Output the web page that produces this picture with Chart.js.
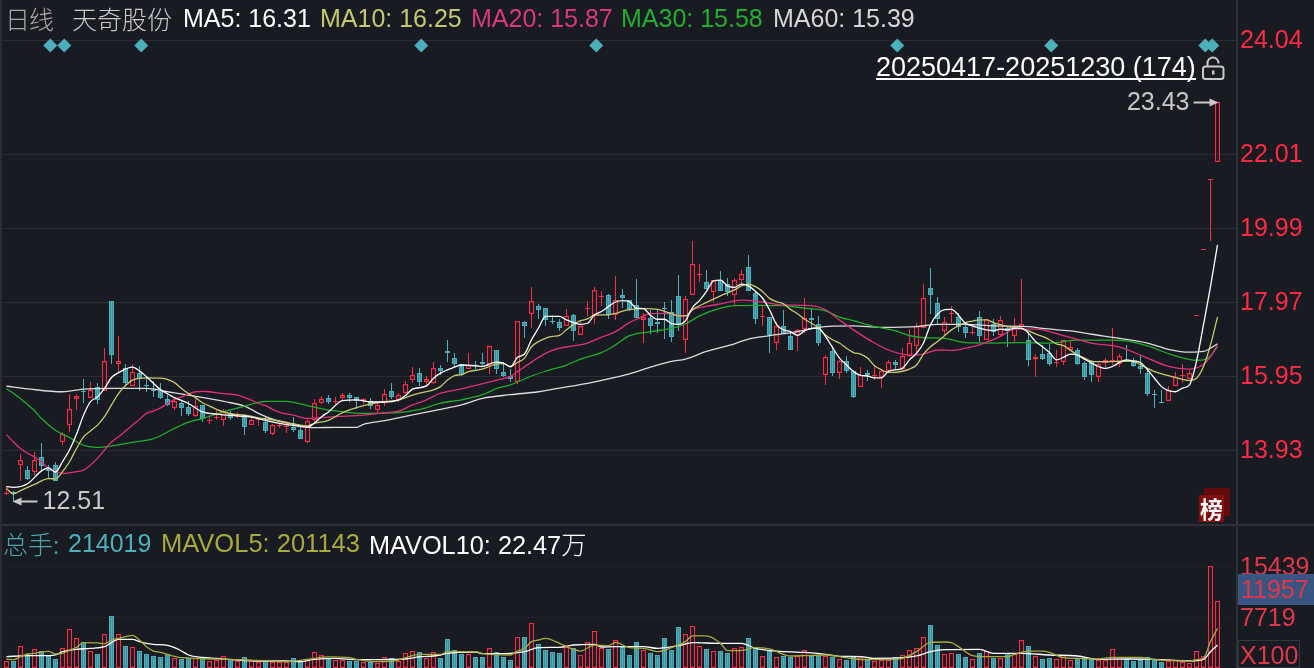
<!DOCTYPE html>
<html>
<head>
<meta charset="utf-8">
<title>天奇股份 日线</title>
<script src="https://cdn.jsdelivr.net/npm/chart.js@4/dist/chart.umd.min.js"></script>
<style>
  html, body { margin: 0; padding: 0; background: #181b21; }
  body { position: relative; width: 1314px; height: 668px; overflow: hidden; font-family: "Liberation Sans", Arial, sans-serif; font-size: 25px; }
  canvas { position: absolute; left: 0; }
  #priceChart { top: 0; }
  #volumeChart { top: 527px; }
  .txt { position: absolute; white-space: nowrap; line-height: 28px; height: 28px; }
  .cjk { font-family: "Noto Sans CJK SC", sans-serif; font-weight: 300; }
  .box { position: absolute; }
</style>
</head>
<body>
<canvas id="priceChart" width="1314" height="524"></canvas>
<canvas id="volumeChart" width="1314" height="141"></canvas>

<!-- separators -->
<div class="box" style="left:0;top:0;width:2px;height:668px;background:#2b2d32"></div>
<div class="box" style="left:0;top:524px;width:1314px;height:2px;background:#303238"></div>

<!-- price header -->
<span class="txt cjk" style="left:5px;top:4px;color:#a9a9a9;letter-spacing:-1px">日线</span>
<span class="txt cjk" style="left:72px;top:4px;color:#c9c9c9">天奇股份</span>
<span class="txt" style="left:183px;top:4px;color:#ffffff">MA5: 16.31</span>
<span class="txt" style="left:320px;top:4px;color:#c6c86c">MA10: 16.25</span>
<span class="txt" style="left:471px;top:4px;color:#d93a76">MA20: 15.87</span>
<span class="txt" style="left:621px;top:4px;color:#22ad2e">MA30: 15.58</span>
<span class="txt" style="left:773px;top:4px;color:#d6d6d6">MA60: 15.39</span>

<span class="txt" style="left:876px;top:52px;color:#ffffff;font-size:27px;border-bottom:2px solid #ffffff;height:26px;line-height:30px">20250417-20251230 (174)</span>
<svg class="box" style="left:1201px;top:56px" width="25" height="25" viewBox="0 0 25 25">
  <rect x="2" y="10.5" width="20.5" height="12.5" rx="2.5" fill="none" stroke="#c9c9c9" stroke-width="2"/>
  <path d="M6.5 10 V7 A5.5 5.5 0 0 1 17.5 7 V7.5" fill="none" stroke="#c9c9c9" stroke-width="2"/>
  <rect x="11" y="14.5" width="2.5" height="4" fill="#c9c9c9"/>
</svg>

<!-- rank badge -->
<div class="box" style="left:1204px;top:488px;width:26px;height:28px;background:#640c0c"></div>
<div class="box" style="left:1199px;top:495px;width:25px;height:27px;background:#840d0d"></div>
<span class="txt cjk" style="left:1200px;top:494px;color:#ffffff;font-size:23px;font-weight:700">榜</span>

<!-- volume header -->
<span class="txt cjk" style="left:3px;top:529px;color:#4aa5ad">总手:</span>
<span class="txt" style="left:68px;top:529px;color:#4bb0bc">214019</span>
<span class="txt" style="left:161px;top:529px;color:#a8ab3c;font-size:25.5px">MAVOL5: 201143</span>
<span class="txt" style="left:369px;top:529px;color:#ffffff;font-size:25.3px">MAVOL10: 22.47<span class="cjk">万</span></span>

<!-- volume axis extras -->
<div class="box" style="left:1238px;top:574px;width:76px;height:31px;background:#3b5583"></div>
<span class="txt" style="left:1241px;top:575px;color:#e0384b">11957</span>
<div class="box" style="left:1238px;top:640px;width:62px;height:28px;border:1px solid #33363c;box-sizing:border-box"></div>
<span class="txt" style="left:1240px;top:641px;color:#e0384b">X100</span>

<script>
// candles, oldest first (price)
const opens = [
  12.73,12.77,13.53,13.38,13.34,13.74,13.40,13.51,14.15,14.60,
  15.33,15.54,15.36,15.64,15.55,17.99,16.28,16.16,15.69,16.03,
  15.70,15.58,15.55,15.32,15.09,15.21,15.11,14.85,15.15,14.74,
  14.81,14.76,14.94,14.83,14.89,14.60,14.74,14.69,14.37,14.58,
  14.55,14.57,14.47,14.14,14.74,15.21,15.35,15.24,15.36,15.44,
  15.37,15.26,15.27,15.03,15.21,15.54,15.30,15.48,15.83,16.04,
  15.80,15.77,16.17,16.64,16.45,16.28,16.15,16.25,16.34,16.23,
  16.66,16.06,15.95,15.79,17.42,17.64,17.87,17.81,17.46,17.43,
  17.32,17.62,17.06,17.79,17.61,18.12,18.17,17.62,18.17,18.02,
  17.89,17.47,17.54,17.43,17.81,17.70,18.14,16.93,18.16,18.70,
  18.52,18.23,18.57,18.46,18.16,18.57,18.93,18.22,17.57,17.56,
  16.86,17.32,17.05,17.07,17.23,17.54,17.37,15.99,16.64,16.04,
  16.36,16.08,15.64,16.04,15.94,15.93,16.09,16.34,16.15,16.50,
  16.78,17.26,18.36,17.95,17.17,17.66,17.56,17.29,17.13,17.56,
  16.94,17.37,17.07,17.26,17.05,17.30,16.94,16.41,16.55,16.58,
  16.32,16.34,16.67,16.66,16.31,16.36,15.91,16.31,16.34,16.27,
  16.36,16.34,16.23,16.04,15.45,15.24,15.27,15.69,15.94,15.87,
  17.59,19.38,21.31,21.79
];
const highs = [
  12.95,12.82,13.82,13.49,13.87,14.12,13.52,13.61,14.43,15.47,
  15.46,15.87,15.78,15.75,16.71,17.99,17.04,16.27,16.29,16.22,
  15.95,15.82,15.75,15.43,15.33,15.26,15.26,15.31,15.15,14.88,
  15.02,15.04,15.00,14.96,14.91,14.88,14.84,14.84,14.64,14.67,
  14.72,14.84,14.56,14.75,15.33,15.41,15.44,15.37,15.48,15.48,
  15.37,15.34,15.34,15.24,15.60,15.75,15.48,15.82,16.20,16.17,
  15.95,16.32,16.25,16.94,16.58,16.28,16.58,16.35,16.59,16.76,
  16.66,16.34,16.15,17.45,17.46,18.38,17.92,17.81,17.62,17.51,
  17.78,17.65,17.45,18.00,18.38,18.27,18.19,18.68,18.33,18.03,
  18.60,17.66,17.76,17.76,17.97,18.03,18.71,18.14,19.64,19.01,
  18.85,18.58,18.82,18.63,18.63,18.85,19.26,18.27,17.87,17.56,
  17.42,17.76,17.18,17.24,18.07,17.78,17.59,16.53,16.77,16.39,
  16.50,16.12,16.20,16.11,16.25,16.12,16.39,16.39,16.72,17.24,
  17.40,18.47,18.90,18.11,17.56,17.87,17.66,17.37,17.29,17.73,
  17.51,17.51,17.59,17.32,17.53,18.60,17.12,16.55,16.80,16.83,
  16.66,16.93,16.94,16.72,16.36,16.39,16.31,16.45,17.26,16.55,
  16.80,16.45,16.53,16.12,15.57,15.57,15.68,16.06,16.28,16.12,
  17.62,19.41,21.34,23.43
];
const lows = [
  12.70,12.51,13.09,13.11,13.24,13.38,13.14,13.09,14.06,14.43,
  15.02,15.20,15.36,15.18,15.55,16.27,16.02,15.67,15.69,15.55,
  15.52,15.38,15.33,15.13,15.02,14.86,14.86,14.83,14.70,14.64,
  14.75,14.59,14.75,14.80,14.34,14.60,14.59,14.40,14.35,14.54,
  14.40,14.43,14.23,14.11,14.68,15.19,15.18,15.19,15.30,15.25,
  15.04,15.19,15.05,14.92,15.12,15.32,15.24,15.45,15.75,15.69,
  15.65,15.72,15.97,16.32,16.20,15.95,16.15,16.15,16.21,16.01,
  16.01,15.93,15.79,15.74,16.99,17.26,17.51,17.32,17.37,17.18,
  17.32,16.91,17.06,17.59,17.37,17.87,17.51,17.48,17.81,17.73,
  17.54,16.86,17.10,17.12,16.96,16.88,17.18,16.58,18.16,18.52,
  18.30,17.97,18.27,18.14,17.89,18.44,18.27,17.37,17.32,16.58,
  16.66,17.10,16.66,16.64,17.12,17.21,16.77,15.71,15.95,15.87,
  16.04,15.35,15.64,15.82,15.84,15.63,16.09,16.12,16.12,16.47,
  16.53,17.26,17.65,17.35,17.05,17.39,17.16,16.99,17.07,16.88,
  16.94,17.05,17.03,16.75,16.88,17.23,16.23,15.93,16.39,16.23,
  16.20,16.25,16.67,16.25,15.84,15.79,15.79,16.19,16.25,16.20,
  16.34,16.20,16.01,15.41,15.08,15.22,15.27,15.69,15.76,15.87,
  17.59,19.38,19.64,21.79
];
const closes = [
  12.76,12.73,13.67,13.14,13.65,13.49,13.35,13.09,14.38,15.06,
  15.40,15.52,15.58,15.29,16.35,16.52,16.35,15.77,16.05,15.87,
  15.68,15.56,15.36,15.15,15.26,15.08,14.92,15.14,14.78,14.76,
  14.83,14.96,14.80,14.92,14.56,14.76,14.78,14.45,14.60,14.60,
  14.64,14.48,14.24,14.71,15.21,15.32,15.24,15.26,15.43,15.36,
  15.28,15.32,15.12,15.16,15.46,15.38,15.44,15.74,15.97,15.79,
  15.86,16.17,16.09,16.58,16.28,15.97,16.24,16.24,16.28,16.76,
  16.15,15.95,15.88,17.45,17.32,17.99,17.76,17.48,17.44,17.26,
  17.58,17.18,17.31,17.81,18.29,18.14,17.62,18.02,18.08,17.78,
  17.54,17.56,17.32,17.37,17.79,17.02,17.37,18.06,19.00,18.74,
  18.33,18.57,18.27,18.25,18.57,18.73,18.27,17.51,17.59,17.07,
  17.31,17.11,16.66,17.20,17.53,17.48,16.86,16.47,16.04,16.35,
  16.09,15.38,15.98,15.98,15.97,16.08,16.33,16.25,16.49,16.85,
  17.31,18.07,18.17,17.51,17.42,17.67,17.29,17.13,17.16,17.05,
  17.51,17.16,17.47,17.18,17.29,17.36,16.39,16.47,16.42,16.28,
  16.34,16.93,16.75,16.28,15.93,15.98,16.27,16.39,16.38,16.49,
  16.34,16.23,16.15,15.46,15.44,15.23,15.57,15.92,15.97,16.03,
  17.62,19.41,21.34,23.43
];
// volume, in units of 100 hands
const volumes = [
  1060,1060,3280,2070,2830,2570,1870,1360,2980,5850,
  4490,3940,2520,2120,5100,7870,5100,3330,3130,2570,
  2120,1820,1670,2070,1460,1360,1560,1560,1460,1060,
  1160,1770,1310,1060,1670,1210,910,1060,860,960,
  860,1510,960,1310,2370,1920,1560,1210,1210,1060,
  1060,860,960,760,1620,1510,1060,2220,2520,2420,
  1560,2370,1460,4390,2730,2170,2070,1670,1670,2980,
  2420,1670,1210,4640,4690,6760,3630,2730,2420,2270,
  3130,3030,1920,3890,5550,2980,2880,4190,3230,1970,
  3940,2670,2270,1970,4540,2780,6210,5100,6310,3280,
  2880,2520,2570,2270,2980,3130,4540,3080,1770,2570,
  1620,1820,1720,1770,2670,1820,1870,1870,1670,1310,
  1210,1720,1670,1260,1010,1210,1210,1670,1920,2670,
  2980,4640,6510,3480,2070,2220,2120,1670,1310,2270,
  2520,1510,1460,2270,2070,4190,3330,1770,1360,1510,
  1310,1970,1210,1410,1410,1460,1210,1210,2830,1670,
  1410,1060,1210,1670,1210,910,1060,1210,910,760,
  2520,1870,15439,10190
];

// moving averages, [candle number, value] read at the places where the line bends
const ma5 = [
  [0,12.93],[1,12.91],[3,13.01],[5,13.36],[6,13.44],[7,13.33],[8,13.61],[9,13.93],[10,14.36],[11,14.88],
  [12,15.25],[13,15.38],[14,15.61],[15,15.91],[16,16.04],[18,16.19],[19,16.09],[20,15.93],[22,15.58],[24,15.36],
  [26,15.20],[28,14.97],[30,14.91],[33,14.86],[35,14.83],[37,14.74],[39,14.66],[41,14.60],[43,14.55],[44,14.67],
  [45,14.84],[46,14.97],[48,15.28],[50,15.30],[52,15.24],[54,15.24],[56,15.30],[57,15.42],[58,15.59],[60,15.68],
  [61,15.89],[62,16.03],[64,16.19],[65,16.25],[67,16.23],[68,16.21],[69,16.28],[70,16.33],[71,16.30],[72,16.20],
  [73,16.46],[74,16.55],[75,16.94],[76,17.26],[77,17.58],[79,17.58],[80,17.48],[81,17.41],[82,17.36],[83,17.39],
  [84,17.62],[85,17.71],[86,17.85],[87,17.97],[88,18.01],[89,17.98],[90,17.80],[91,17.79],[92,17.61],[93,17.50],
  [94,17.50],[95,17.38],[96,17.36],[97,17.46],[98,17.82],[99,18.01],[100,18.26],[101,18.55],[102,18.57],[103,18.41],
  [104,18.37],[105,18.46],[106,18.41],[107,18.26],[108,18.08],[109,17.76],[110,17.36],[111,17.21],[112,17.16],[113,17.06],
  [114,17.18],[115,17.25],[116,17.25],[117,17.03],[118,16.73],[119,16.44],[120,16.25],[121,16.07],[122,15.97],[123,15.95],
  [124,15.90],[125,15.90],[126,16.08],[127,16.12],[128,16.16],[129,16.39],[130,16.57],[131,16.85],[132,17.35],[133,17.64],
  [134,17.76],[135,17.77],[136,17.61],[137,17.39],[138,17.32],[139,17.26],[140,17.21],[141,17.19],[142,17.23],[143,17.21],
  [144,17.25],[145,17.25],[146,17.12],[147,16.89],[148,16.75],[149,16.59],[150,16.39],[151,16.46],[152,16.55],[153,16.52],
  [154,16.41],[155,16.30],[156,16.21],[157,16.16],[158,16.21],[159,16.32],[160,16.39],[161,16.36],[162,16.32],[163,16.12],
  [164,15.89],[165,15.66],[166,15.55],[167,15.52],[168,15.62],[169,15.71],[170,16.35],[171,17.35],[172,18.39],[173,19.53]
];
const ma10 = [
  [0,12.88],[1,12.73],[2,12.82],[4,12.99],[6,13.15],[7,13.14],[8,13.34],[9,13.61],[10,13.97],[11,14.29],
  [12,14.45],[13,14.61],[14,14.84],[15,15.16],[16,15.47],[17,15.69],[18,15.84],[20,15.90],[22,15.89],[23,15.86],
  [24,15.77],[25,15.61],[26,15.47],[27,15.36],[28,15.22],[29,15.13],[30,15.04],[31,14.97],[32,14.92],[34,14.88],
  [36,14.81],[38,14.75],[40,14.67],[42,14.61],[43,14.59],[44,14.66],[46,14.74],[48,14.95],[51,15.14],[54,15.25],
  [56,15.29],[57,15.36],[59,15.48],[61,15.57],[62,15.66],[63,15.84],[64,15.96],[65,15.99],[66,16.07],[68,16.14],
  [69,16.21],[70,16.28],[71,16.29],[72,16.21],[73,16.32],[74,16.44],[75,16.75],[76,16.89],[77,16.98],[78,17.03],
  [79,17.06],[80,17.21],[81,17.36],[82,17.46],[83,17.51],[84,17.61],[86,17.62],[87,17.66],[88,17.72],[89,17.76],
  [91,17.79],[93,17.77],[95,17.65],[96,17.59],[97,17.59],[98,17.76],[100,17.96],[102,18.14],[104,18.30],[105,18.41],
  [106,18.46],[107,18.39],[108,18.26],[109,18.07],[110,17.98],[111,17.92],[112,17.77],[113,17.65],[114,17.50],[115,17.39],
  [116,17.26],[117,17.07],[118,16.94],[119,16.85],[120,16.71],[121,16.59],[122,16.55],[123,16.44],[124,16.23],[125,16.12],
  [126,16.05],[127,16.05],[128,16.08],[129,16.14],[130,16.25],[131,16.55],[132,16.75],[133,16.89],[134,17.05],[135,17.21],
  [136,17.32],[137,17.41],[138,17.45],[139,17.48],[140,17.48],[141,17.41],[142,17.35],[143,17.30],[144,17.27],[145,17.25],
  [146,17.18],[147,17.10],[148,17.03],[149,16.94],[150,16.83],[151,16.78],[152,16.65],[153,16.53],[154,16.44],[155,16.35],
  [157,16.34],[160,16.36],[161,16.35],[162,16.26],[163,16.16],[164,16.07],[165,16.01],[166,15.96],[167,15.91],[168,15.86],
  [169,15.83],[170,15.89],[171,16.21],[172,16.80],[173,17.56]
];
const ma20 = [
  [0,14.35],[1,14.15],[2,13.97],[3,13.84],[4,13.74],[5,13.61],[6,13.43],[7,13.35],[8,13.29],[10,13.34],
  [11,13.38],[12,13.52],[13,13.70],[14,13.93],[15,14.15],[16,14.29],[17,14.45],[18,14.61],[19,14.77],[20,14.93],
  [21,14.99],[22,15.08],[23,15.20],[24,15.31],[25,15.38],[26,15.46],[27,15.52],[28,15.53],[29,15.52],[31,15.47],
  [33,15.43],[34,15.36],[35,15.29],[36,15.20],[37,15.14],[38,15.04],[39,14.96],[41,14.88],[43,14.79],
  [47,14.84],[51,14.88],[54,14.95],[56,14.99],[58,15.16],[60,15.30],[62,15.48],[65,15.60],[68,15.74],[70,15.84],
  [72,15.94],[73,16.07],[75,16.33],[77,16.57],[79,16.71],[81,16.77],[83,16.85],[85,17.01],[87,17.16],[89,17.41],
  [90,17.50],[92,17.65],[94,17.66],[97,17.59],[98,17.76],[100,17.85],[102,17.92],[105,18.02],[108,17.97],[111,17.89],
  [115,17.87],[117,17.76],[119,17.48],[121,17.21],[124,16.85],[126,16.66],[129,16.52],[131,16.55],[133,16.66],[135,16.65],
  [137,16.71],[139,16.80],[142,17.03],[144,17.23],[147,17.23],[151,17.05],[155,16.85],[159,16.74],[163,16.44],[166,16.21],
  [169,16.14],[171,16.27],[172,16.48],[173,16.80]
];
const ma30 = [
  [0,15.61],[2,15.33],[4,15.00],[5,14.79],[7,14.47],[9,14.27],[11,14.06],[13,14.00],[15,14.04],[18,14.14],
  [21,14.24],[24,14.52],[26,14.69],[28,14.79],[31,14.97],[34,15.13],[37,15.26],[40,15.26],[43,15.14],[46,15.02],
  [47,15.00],[51,14.93],[56,14.95],[59,15.03],[62,15.21],[65,15.30],[68,15.44],[70,15.61],[72,15.71],[75,15.95],
  [77,16.08],[80,16.25],[82,16.41],[85,16.59],[87,16.80],[89,17.05],[92,17.16],[95,17.25],[97,17.37],[99,17.59],
  [102,17.80],[104,17.87],[107,17.88],[111,17.87],[114,17.80],[117,17.73],[119,17.56],[121,17.46],[124,17.30],[127,17.18],
  [129,17.05],[131,17.00],[134,16.98],[137,16.86],[140,16.85],[145,16.86],[149,16.85],[153,16.93],[157,16.93],[160,16.91],
  [163,16.77],[167,16.50],[170,16.38],[171,16.39],[172,16.50],[173,16.75]
];
const ma60 = [
  [0,15.67],[3,15.60],[8,15.52],[11,15.59],[15,15.61],[20,15.61],[23,15.52],[26,15.43],[29,15.33],[32,15.22],
  [34,15.13],[36,14.93],[38,14.77],[41,14.64],[44,14.54],[47,14.55],[50,14.55],[51,14.63],[54,14.73],[58,14.89],
  [62,15.04],[65,15.16],[68,15.34],[72,15.44],[76,15.52],[79,15.62],[83,15.75],[86,15.87],[89,16.01],[92,16.19],
  [95,16.35],[97,16.41],[100,16.62],[104,16.83],[106,16.96],[109,17.05],[113,17.16],[116,17.28],[121,17.32],[125,17.28],
  [130,17.30],[133,17.36],[137,17.36],[141,17.32],[146,17.30],[148,17.25],[152,17.18],[155,17.09],[159,16.98],[163,16.85],
  [166,16.68],[169,16.60],[171,16.62],[173,16.83]
];
const mavol5 = [
  [0,1360],[1,1260],[2,1720],[3,2120],[4,2220],[5,2420],[6,2520],[7,2120],[8,2220],[9,2670],
  [10,3130],[11,3840],[13,3790],[14,3680],[15,4240],[16,4490],[17,4740],[18,4950],[19,4240],[20,3230],
  [21,2570],[22,2370],[23,2070],[24,1770],[25,1560],[27,1460],[29,1360],[32,1310],[34,1210],[37,1110],
  [40,960],[43,1310],[46,1670],[49,1560],[50,1310],[53,960],[56,1210],[57,1560],[59,2070],[61,2070],
  [62,2070],[63,2470],[67,2470],[68,2170],[72,1970],[73,2570],[74,2980],[75,3990],[76,4240],[77,4490],
  [79,3730],[80,3230],[82,2570],[84,3480],[86,3380],[87,3890],[89,3080],[91,2980],[93,2470],[95,3080],
  [97,3990],[98,4850],[100,4850],[102,3730],[103,2620],[105,2670],[107,3080],[109,2880],[112,1820],[114,1870],
  [117,1970],[119,1720],[121,1360],[124,1260],[127,1310],[128,1460],[130,2470],[132,3890],[134,3940],[135,3840],
  [136,3230],[138,1870],[140,1720],[143,1720],[144,2070],[146,2570],[148,2570],[149,2370],[151,1560],[153,1460],
  [156,1360],[158,1610],[162,1610],[164,1260],[168,1060],[169,1010],[170,1260],[171,1460],[172,3990],[173,6010]
];
const mavol10 = [
  [0,1720],[3,1870],[6,1870],[7,1970],[8,2470],[10,2830],[12,2980],[14,3230],[16,4340],[18,4340],
  [19,3990],[20,3730],[21,3580],[23,3430],[24,3080],[25,2570],[26,1970],[28,1610],[30,1460],[33,1210],
  [36,1060],[40,1060],[42,960],[44,1310],[47,1460],[49,1310],[53,1260],[55,1310],[57,1360],[59,1720],
  [61,1820],[62,1970],[63,2220],[67,2420],[68,2170],[72,2220],[74,2470],[76,3080],[79,3130],[81,3480],
  [84,3580],[85,3180],[87,3230],[91,3230],[93,2980],[96,3380],[98,3840],[102,3730],[105,3730],[107,2980],
  [110,2570],[114,2370],[117,2070],[119,1770],[122,1720],[124,1460],[128,1560],[130,1820],[132,2470],[134,2780],
  [139,2830],[141,2220],[145,2220],[149,1970],[153,1820],[156,1310],[160,1360],[164,1310],[166,1210],[169,1060],
  [171,1310],[172,2470],[173,3480]
];

// teal diamonds along the top
const markerSlots = [6.25, 8.25, 19.25, 59.25, 84.25, 127.25, 149.25, 171.25, 172.25];
const markerLevel = 24.97;

// the top label does not sit where its number would fall on the scale
const priceTickValues = [13.93, 15.95, 17.97, 19.99, 22.01, 25.12];
const priceTickLabels = ['13.93', '15.95', '17.97', '19.99', '22.01', '24.04'];
const volumeTickValues = [7719, 15439];
const volumeTickLabels = ['7719', '15439'];

const BG = '#181b21';
const RED = '#ff2a44';
const TEAL = '#4bb0bc';
const FONT = '"Liberation Sans", Arial, sans-serif';

const isUp = closes.map((c, i) => c >= opens[i]);
const indexes = closes.map((c, i) => i);
const toPoints = pairs => pairs.map(p => ({ x: p[0], y: p[1] }));

// round the bars to whole pixels so the hollow candles stay sharp
const snapBars = {
  id: 'snapBars',
  beforeDatasetDraw(chart, args) {
    const meta = chart.getDatasetMeta(args.index);
    if (meta.type !== 'bar') return;
    meta.data.forEach(el => {
      el.y = Math.round(el.y);
      el.base = Math.round(el.base);
      if (el.y === el.base) el.base = el.y + 1;
    });
  }
};

// arrows at the highest and lowest price of the range
const extremes = {
  id: 'extremes',
  afterDatasetsDraw(chart) {
    const { x, y } = chart.scales;
    const { ctx } = chart;
    const hi = Math.max(...highs);
    const lo = Math.min(...lows);
    const hiX = x.getPixelForValue(highs.indexOf(hi));
    const hiY = Math.round(y.getPixelForValue(hi)) + 0.5;
    const loX = x.getPixelForValue(lows.indexOf(lo));
    const loY = Math.round(y.getPixelForValue(lo)) - 0.5;
    ctx.save();
    ctx.strokeStyle = ctx.fillStyle = '#c8c8c8';
    ctx.lineWidth = 2;
    ctx.font = '25px ' + FONT;
    ctx.textBaseline = 'middle';

    ctx.beginPath();
    ctx.moveTo(hiX - 24, hiY);
    ctx.lineTo(hiX - 6, hiY);
    ctx.stroke();
    ctx.beginPath();
    ctx.moveTo(hiX + 1, hiY);
    ctx.lineTo(hiX - 8, hiY - 4);
    ctx.lineTo(hiX - 8, hiY + 4);
    ctx.fill();
    ctx.textAlign = 'right';
    ctx.fillText(hi.toFixed(2), hiX - 28, hiY + 1);

    ctx.beginPath();
    ctx.moveTo(loX + 24, loY);
    ctx.lineTo(loX + 6, loY);
    ctx.stroke();
    ctx.beginPath();
    ctx.moveTo(loX - 1, loY);
    ctx.lineTo(loX + 8, loY - 4);
    ctx.lineTo(loX + 8, loY + 4);
    ctx.fill();
    ctx.textAlign = 'left';
    ctx.fillText(lo.toFixed(2), loX + 29, loY + 1);
    ctx.restore();
  }
};

function lineSet(label, pairs, color, order) {
  return {
    type: 'line',
    label,
    data: toPoints(pairs),
    borderColor: color,
    borderWidth: 1.3,
    pointRadius: 0,
    fill: false,
    cubicInterpolationMode: 'monotone',
    order
  };
}

// shared x axis: seven pixels per candle, first candle centred on x = 6.5
const xAxis = { type: 'linear', display: false, offset: false, min: -6.5 / 7, max: (1237 - 6.5) / 7, grid: { display: false } };

function yAxis(min, max, values, labels, color, gridColor, dash, labelOffset) {
  return {
    position: 'right',
    min,
    max,
    afterBuildTicks(scale) { scale.ticks = values.map(v => ({ value: v })); },
    afterFit(scale) {
      scale.width = 77;
      scale.paddingTop = 0;
      scale.paddingBottom = 0;
    },
    grid: { color: gridColor, drawTicks: false, lineWidth: 1 },
    border: { display: true, color: '#303238', width: 2, dash },
    ticks: {
      autoSkip: false,
      padding: 3,
      labelOffset,
      color,
      font: { family: FONT, size: 25 },
      callback: (v, i) => labels[i]
    }
  };
}

const priceChart = new Chart(document.getElementById('priceChart'), {
  type: 'bar',
  data: {
    datasets: [
      {
        type: 'scatter',
        label: 'events',
        data: markerSlots.map(s => ({ x: s, y: markerLevel })),
        pointStyle: 'rectRot',
        pointRadius: 7,
        backgroundColor: TEAL,
        borderWidth: 0,
        order: 0
      },
      lineSet('MA5', ma5, '#ffffff', 1),
      lineSet('MA10', ma10, '#c8c96e', 2),
      lineSet('MA20', ma20, '#e0307a', 3),
      lineSet('MA30', ma30, '#1fae2b', 4),
      lineSet('MA60', ma60, '#dcdcdc', 5),
      {
        label: 'body',
        data: indexes.map(i => ({ x: i, y: [opens[i], closes[i]] })),
        grouped: false,
        barThickness: 5,
        borderWidth: 1.3,
        borderSkipped: false,
        inflateAmount: 0,
        backgroundColor: isUp.map(u => (u ? BG : TEAL)),
        borderColor: isUp.map(u => (u ? RED : TEAL)),
        order: 6
      },
      {
        label: 'wick',
        data: indexes.map(i => ({ x: i, y: [lows[i], highs[i]] })),
        grouped: false,
        barThickness: 1,
        borderWidth: 0,
        inflateAmount: 0,
        backgroundColor: isUp.map(u => (u ? RED : TEAL)),
        order: 7
      }
    ]
  },
  options: {
    responsive: false,
    devicePixelRatio: 1,
    animation: false,
    layout: { autoPadding: false, padding: 0 },
    plugins: { legend: { display: false }, tooltip: { enabled: false } },
    scales: {
      x: xAxis,
      y: yAxis(11.91, 26.215, priceTickValues, priceTickLabels, RED, '#2b2d31', undefined, 1)
    }
  },
  plugins: [snapBars, extremes]
});

const volumeChart = new Chart(document.getElementById('volumeChart'), {
  type: 'bar',
  data: {
    datasets: [
      lineSet('MAVOL5', mavol5, '#a8ab3c', 1),
      lineSet('MAVOL10', mavol10, '#ffffff', 2),
      {
        label: 'volume',
        data: indexes.map(i => ({ x: i, y: volumes[i] })),
        grouped: false,
        barThickness: 5,
        borderWidth: 1.3,
        borderSkipped: false,
        inflateAmount: 0,
        backgroundColor: isUp.map(u => (u ? BG : TEAL)),
        borderColor: isUp.map(u => (u ? RED : TEAL)),
        order: 3
      }
    ]
  },
  options: {
    responsive: false,
    devicePixelRatio: 1,
    animation: false,
    layout: { autoPadding: false, padding: 0 },
    plugins: { legend: { display: false }, tooltip: { enabled: false } },
    scales: {
      x: xAxis,
      y: yAxis(0, 21350, volumeTickValues, volumeTickLabels, '#e0384b', '#35383d', [1, 3], 2)
    }
  },
  plugins: [snapBars]
});
</script>
</body>
</html>
